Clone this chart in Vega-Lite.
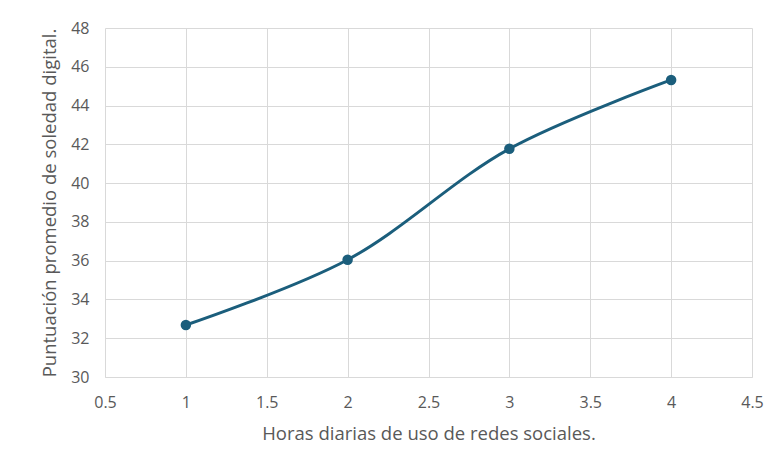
{
  "$schema": "https://vega.github.io/schema/vega-lite/v6.json",
  "width": 647,
  "height": 349,
  "autosize": {"type": "none"},
  "padding": {"left": 105, "top": 28, "right": 25, "bottom": 95},
  "background": "white",
  "data": {"values": [
    {"horas": 1, "puntuacion": 32.68},
    {"horas": 2, "puntuacion": 36.05},
    {"horas": 3, "puntuacion": 41.77},
    {"horas": 4, "puntuacion": 45.32}
  ]},
  "config": {
    "font": "Open Sans",
    "view": {"stroke": null},
    "axis": {
      "gridColor": "#d9d9d9",
      "gridWidth": 1,
      "ticks": false,
      "labelColor": "#595959",
      "labelFontSize": 16,
      "labelFont": "Open Sans",
      "titleColor": "#595959",
      "titleFontSize": 18.5,
      "titleFontWeight": "normal",
      "titleFont": "Open Sans"
    }
  },
  "encoding": {
    "x": {
      "field": "horas", "type": "quantitative",
      "scale": {"domain": [0.5, 4.5], "nice": false, "zero": false},
      "axis": {"values": [0.5, 1, 1.5, 2, 2.5, 3, 3.5, 4, 4.5], "format": "~g", "title": "Horas diarias de uso de redes sociales.", "domainColor": "#d9d9d9", "labelPadding": 17, "titlePadding": 14, "labelFlush": false}
    },
    "y": {
      "field": "puntuacion", "type": "quantitative",
      "scale": {"domain": [30, 48], "nice": false, "zero": false},
      "axis": {"values": [30, 32, 34, 36, 38, 40, 42, 44, 46, 48], "title": "Puntuación promedio de soledad digital.", "domain": false, "labelPadding": 16, "titlePadding": 11, "labelFlush": false}
    }
  },
  "layer": [
    {"mark": {"type": "line", "interpolate": "catmull-rom", "color": "#1b5e7c", "strokeWidth": 3}},
    {"mark": {"type": "point", "filled": true, "opacity": 1, "color": "#1b5e7c", "size": 110}}
  ]
}
